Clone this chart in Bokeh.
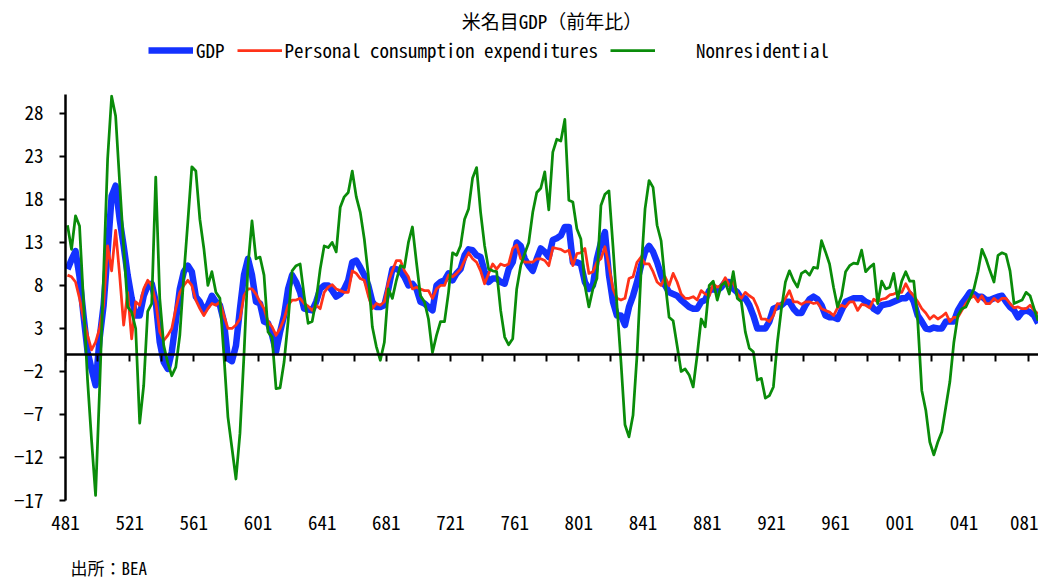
import numpy as np
from bokeh.plotting import figure
from bokeh.layouts import column
from bokeh.models import Range1d, FixedTicker, LinearAxis, Legend, LegendItem, Label
from bokeh.embed import file_html
from bokeh.resources import INLINE

FONT = "'Noto Sans Mono CJK JP', 'Noto Sans CJK JP', monospace"

# Year-on-year % change, quarterly, 1948Q1 ... 2008Q3
gdp = [
    9.9, 11.0, 12.0, 9.0, 4.5, 0.3, -1.7, -3.6, 1.8, 5.7,
    11.9, 18.4, 19.6, 15.7, 12.6, 9.2, 6.5, 4.5, 4.5, 6.8,
    8.0, 8.2, 6.1, 1.4, -0.9, -1.7, 0.3, 3.8, 7.6, 9.6,
    10.3, 9.6, 6.7, 6.1, 5.1, 5.7, 6.8, 6.1, 5.7, 3.8,
    -0.5, -0.8, 1.0, 5.3, 9.2, 11.1, 9.2, 6.1, 5.9, 3.8,
    3.6, 2.2, 0.3, 2.6, 4.5, 7.6, 9.2, 8.4, 7.2, 5.3,
    5.2, 5.1, 6.1, 7.6, 8.0, 8.0, 7.4, 6.7, 7.0, 7.6,
    8.6, 10.7, 10.9, 10.1, 9.2, 8.0, 6.1, 5.5, 5.5, 5.7,
    7.6, 9.9, 9.9, 9.7, 9.0, 8.0, 8.2, 7.6, 6.1, 5.9,
    5.5, 5.1, 8.0, 8.4, 8.6, 9.4, 8.6, 9.4, 9.9, 11.5,
    12.2, 12.1, 11.5, 11.3, 9.6, 8.4, 8.8, 8.8, 8.4, 8.2,
    9.9, 10.7, 13.0, 12.6, 11.1, 10.3, 9.7, 11.1, 12.3, 11.9,
    11.3, 13.3, 13.5, 13.8, 14.8, 14.8, 10.7, 10.7, 10.5, 8.4,
    7.6, 8.0, 11.1, 13.0, 14.2, 9.2, 6.1, 4.5, 4.5, 3.4,
    5.5, 6.8, 8.4, 10.3, 11.9, 12.6, 11.9, 10.7, 9.2, 8.0,
    7.2, 7.0, 6.8, 6.3, 5.9, 5.5, 5.3, 5.3, 6.1, 6.3,
    7.4, 7.6, 7.4, 7.8, 8.4, 8.4, 7.6, 7.2, 6.5, 6.5,
    5.7, 4.5, 3.0, 3.0, 3.0, 3.8, 5.3, 5.5, 5.7, 6.1,
    6.1, 5.3, 4.8, 4.8, 5.7, 6.4, 6.7, 6.4, 5.7, 4.5,
    4.3, 4.3, 4.1, 5.1, 6.1, 6.3, 6.5, 6.5, 6.5, 6.1,
    5.9, 5.3, 5.0, 5.7, 5.8, 5.9, 6.1, 6.3, 6.5, 6.5,
    7.0, 6.1, 4.5, 3.8, 3.0, 2.9, 3.1, 3.0, 3.0, 3.8,
    3.8, 3.8, 5.1, 5.9, 6.5, 7.2, 7.0, 6.7, 6.7, 6.3,
    6.3, 6.5, 6.7, 6.8, 6.1, 5.5, 5.1, 4.3, 4.9, 5.1,
    4.9, 4.5, 3.6,
]

pce = [
    9.2, 9.0, 8.4, 6.5, 4.1, 2.2, 0.5, 1.4, 3.0, 5.7,
    12.6, 9.7, 14.4, 9.2, 3.4, 7.2, 1.8, 6.1, 5.7, 7.6,
    8.6, 8.0, 6.1, 2.6, 1.6, 2.2, 3.0, 5.3, 7.2, 8.0,
    8.6, 8.0, 6.3, 5.3, 4.5, 5.3, 5.9, 5.7, 6.1, 4.5,
    3.0, 3.0, 3.4, 4.1, 6.8, 7.6, 7.6, 7.0, 6.1, 5.3,
    3.8, 3.2, 2.2, 3.0, 4.1, 5.7, 6.3, 6.3, 6.5, 5.9,
    5.6, 5.1, 5.7, 5.3, 7.2, 7.8, 8.1, 7.6, 7.4, 7.2,
    7.2, 9.7, 9.4, 8.8, 8.6, 6.8, 5.3, 5.9, 5.7, 6.1,
    8.4, 9.7, 10.9, 10.9, 9.7, 9.0, 7.6, 7.8, 7.6, 7.4,
    7.4, 6.5, 7.6, 8.0, 8.0, 9.2, 9.0, 9.4, 9.9, 10.9,
    11.8, 11.1, 10.7, 9.7, 8.2, 9.4, 10.5, 9.9, 10.5, 10.3,
    10.5, 12.3, 12.7, 11.1, 10.7, 10.7, 10.7, 11.1, 11.1, 10.9,
    10.3, 12.4, 12.3, 12.2, 11.9, 12.1, 10.3, 11.7, 11.8, 12.3,
    9.4, 9.6, 10.7, 11.1, 12.5, 10.3, 7.6, 6.5, 6.3, 6.5,
    8.8, 9.0, 10.7, 11.3, 10.5, 10.5, 9.6, 8.4, 8.0, 9.0,
    8.0, 9.4, 8.4, 7.0, 6.5, 6.5, 6.7, 6.3, 7.4, 7.0,
    6.8, 8.2, 7.8, 8.0, 8.9, 8.0, 8.4, 7.0, 6.5, 7.2,
    6.8, 6.5, 5.5, 4.1, 4.1, 3.8, 4.5, 5.9, 5.8, 6.5,
    7.4, 6.1, 6.1, 5.8, 6.1, 6.1, 5.9, 6.0, 5.3, 5.1,
    4.9, 4.5, 5.4, 5.7, 5.5, 6.1, 6.1, 5.1, 5.8, 5.7,
    5.4, 6.4, 6.1, 6.4, 6.5, 6.9, 7.0, 7.2, 7.2, 8.2,
    7.3, 6.8, 6.1, 5.3, 4.8, 4.1, 4.5, 4.1, 4.4, 4.8,
    3.8, 4.3, 4.3, 5.1, 5.9, 6.5, 6.8, 6.1, 6.8, 5.9,
    5.9, 6.5, 6.1, 6.5, 6.5, 5.9, 5.4, 5.5, 5.3, 5.3,
    5.7, 5.1, 4.7,
]

nonres = [
    15.0, 12.2, 16.1, 14.9, 6.0, -3.0, -10.0, -16.4, -4.1, 9.3,
    22.7, 30.0, 27.7, 20.0, 12.5, 5.5, 4.9, 3.0, -8.0, -3.6,
    5.0, 5.9, 20.6, 6.5, 1.0, -1.0, -2.5, -1.5, 2.2, 9.2,
    15.4, 21.8, 21.3, 15.7, 12.3, 8.0, 9.6, 7.2, 6.5, -0.1,
    -7.3, -10.9, -14.5, -9.2, -0.1, 10.3, 15.5, 11.1, 11.3, 9.2,
    2.6, 2.0, -4.0, -3.9, -0.9, 3.8, 9.7, 10.3, 10.5, 6.8,
    3.6, 3.8, 6.3, 9.9, 12.6, 12.4, 13.0, 11.9, 17.1, 18.3,
    18.8, 21.3, 18.3, 16.5, 13.4, 9.2, 3.2, 0.9, -0.7, 1.4,
    7.6, 6.5, 8.6, 10.3, 10.1, 13.0, 14.8, 10.7, 6.8, 6.1,
    4.1, 0.2, 2.2, 3.8, 3.8, 7.2, 11.8, 11.5, 12.6, 15.7,
    16.9, 20.5, 21.7, 16.5, 12.6, 9.9, 9.7, 9.6, 5.1, 2.0,
    1.1, 1.8, 7.6, 10.3, 11.7, 13.0, 16.5, 18.8, 19.3, 21.2,
    16.8, 23.5, 25.0, 24.8, 27.3, 17.9, 17.7, 14.6, 13.4, 8.0,
    5.5, 7.6, 8.8, 17.3, 18.6, 19.0, 12.6, 5.7, -0.9, -8.2,
    -9.6, -7.1, -0.1, 9.6, 16.9, 20.2, 19.4, 15.0, 13.2, 8.4,
    4.3, 3.9, 1.0, -2.0, -1.7, -2.4, -3.8, -0.1, 4.1, 3.2,
    8.0, 8.5, 6.3, 8.0, 8.4, 7.0, 9.6, 6.5, 6.1, 2.6,
    0.7, 0.3, -3.0, -2.8, -5.1, -4.8, -3.8, 1.4, 5.3, 8.4,
    9.7, 8.6, 7.8, 9.4, 9.7, 9.2, 10.1, 10.0, 13.2, 11.9,
    10.5, 7.8, 5.5, 6.8, 9.6, 10.3, 10.6, 10.5, 12.1, 9.6,
    10.1, 10.5, 5.9, 8.5, 7.6, 7.8, 9.4, 6.5, 8.5, 9.6,
    8.5, 8.5, 3.8, -4.2, -6.5, -10.2, -11.7, -10.2, -9.0, -6.1,
    -3.2, 1.4, 4.5, 5.3, 5.5, 6.5, 7.6, 9.6, 12.2, 11.1,
    9.7, 8.4, 11.5, 11.8, 11.6, 9.7, 5.9, 6.1, 6.3, 7.2,
    6.8, 5.3, 3.9,
]

series_names = ["GDP", "Personal consumption expenditures", "Nonresidential"]
y_ticks = [-17, -12, -7, -2, 3, 8, 13, 18, 23, 28]

n = len(gdp)
quarters = [f"{y % 100:02d}{q}" for y in range(1948, 2009) for q in range(1, 5)][:n]
xs = [i + 0.5 for i in range(n)]          # category centres
label_ticks = list(range(0, n, 16))       # label every 4 years
mark_ticks = list(range(0, n, 8))         # tick mark every 2 years

BLUE = "#1432FF"
RED = "#FF3219"
GREEN = "#0A8C0A"
WIDTHS = [6.5, 2.75, 2.75]
COLORS = [BLUE, RED, GREEN]

LEFT = 65          # plot frame left edge (px); all strips share it
W, H_TOP, H_MAIN, H_FOOT = 1038, 94, 450, 36


def strip(height):
    """A plain drawing strip whose data units equal page pixels."""
    f = figure(width=W, height=height, x_range=Range1d(LEFT, W), y_range=Range1d(0, height),
               output_backend="svg", toolbar_location=None,
               x_axis_location=None, y_axis_location=None,
               min_border=0, min_border_left=LEFT, min_border_right=0)
    f.grid.visible = False
    f.outline_line_color = None
    f.background_fill_color = "white"
    f.border_fill_color = "white"
    return f


# ---------------- header strip: title + legend ----------------
top = strip(H_TOP)
top.add_layout(Label(x=551.5, y=H_TOP - 20, text="米名目GDP（前年比）", text_align="center",
                     text_baseline="middle", text_font=FONT, text_font_size="19px",
                     text_color="black"))

keys = [top.line(np.array([np.nan]), np.array([np.nan]), line_width=w, color=c)
        for w, c in zip(WIDTHS, COLORS)]
legend = Legend(items=[LegendItem(label=series_names[0], renderers=[keys[0]]),
                       LegendItem(label=series_names[1], renderers=[keys[1]]),
                       LegendItem(label="\u00a0\u00a0\u00a0\u00a0" + series_names[2],
                                  renderers=[keys[2]])],
                orientation="horizontal", location=(148 - LEFT, 31),
                glyph_width=45, glyph_height=20, label_standoff=3, spacing=12,
                padding=0, margin=0,
                label_text_font=FONT, label_text_font_size="19px",
                label_text_color="black",
                background_fill_alpha=0, border_line_alpha=0)
top.add_layout(legend, "center")

# ---------------- main chart ----------------
p = figure(width=W, height=H_MAIN,
           x_range=Range1d(0, 242.6), y_range=Range1d(-17, 30.2),
           output_backend="svg", toolbar_location=None,
           x_axis_location=None, y_axis_location=None,
           min_border_left=LEFT, min_border_right=0,
           min_border_top=0, min_border_bottom=44)
p.grid.visible = False
p.outline_line_color = None
p.background_fill_color = "white"
p.border_fill_color = "white"

for vals, w, c in zip([gdp, pce, nonres], WIDTHS, COLORS):
    p.line(xs, vals, line_width=w, color=c, line_join="round")

yax = LinearAxis(ticker=FixedTicker(ticks=y_ticks),
                 axis_line_width=2.5, axis_line_color="black",
                 major_tick_out=6, major_tick_in=0, major_tick_line_width=2,
                 minor_tick_line_color=None, major_label_standoff=16,
                 major_label_text_font=FONT, major_label_text_font_size="19px",
                 major_label_text_color="black")
p.add_layout(yax, "left")

zax = LinearAxis(fixed_location=0, ticker=FixedTicker(ticks=mark_ticks),
                 axis_line_width=2.5, axis_line_color="black",
                 major_tick_out=7, major_tick_in=0, major_tick_line_width=2,
                 minor_tick_line_color=None,
                 major_label_overrides={t: "" for t in mark_ticks},
                 major_label_text_font_size="1px")
p.add_layout(zax, "below")

lax = LinearAxis(ticker=FixedTicker(ticks=label_ticks),
                 axis_line_color=None, major_tick_line_color=None,
                 minor_tick_line_color=None, major_tick_out=0, major_tick_in=0,
                 major_label_standoff=15,
                 major_label_overrides={t: quarters[t] for t in label_ticks},
                 major_label_text_font=FONT, major_label_text_font_size="19px",
                 major_label_text_color="black")
p.add_layout(lax, "below")

# ---------------- footer strip: source ----------------
foot = strip(H_FOOT)
foot.add_layout(Label(x=70, y=13, text="出所：BEA", text_align="left",
                      text_baseline="middle", text_font=FONT, text_font_size="17px",
                      text_color="black"))

page = column(top, p, foot, spacing=0)
open("out.html", "w").write(file_html(page, INLINE))
